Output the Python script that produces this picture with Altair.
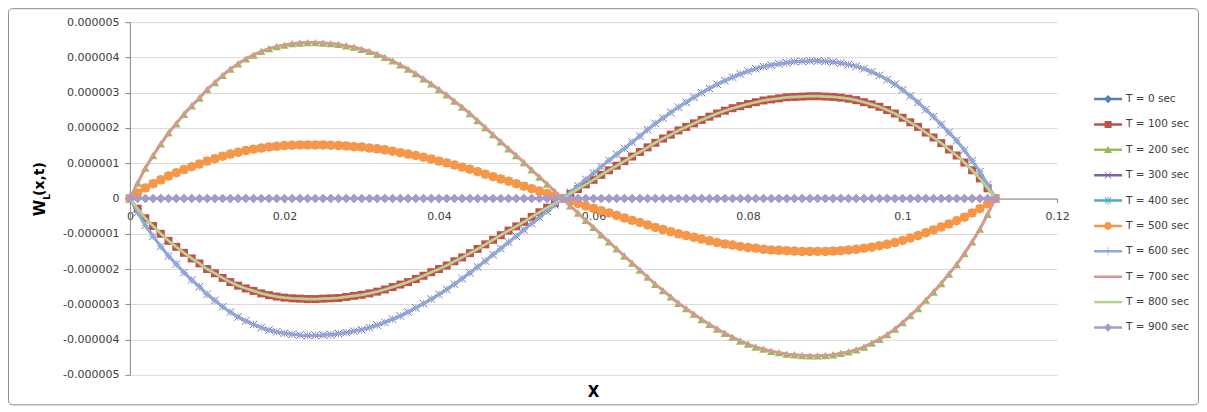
import altair as alt
import pandas as pd

# x positions (m), sampled every 0.001
X = [i / 1000 for i in range(113)]

# deflection values, in units of 1e-6
W_200 = [0, 0.44, 0.86, 1.22, 1.55, 1.86, 2.12, 2.39, 2.63, 2.85, 3.09, 3.29, 3.49, 3.67, 3.82, 3.96, 4.07, 4.17, 4.25, 4.31,
         4.35, 4.39, 4.41, 4.42, 4.42, 4.41, 4.39, 4.37, 4.33, 4.29, 4.23, 4.17, 4.09, 4.00, 3.90, 3.79, 3.67, 3.54, 3.39, 3.25,
         3.09, 2.94, 2.76, 2.59, 2.41, 2.21, 2.01, 1.81, 1.61, 1.41, 1.22, 1.02, 0.81, 0.61, 0.41, 0.20, 0,
         -0.21, -0.41, -0.62, -0.82, -1.03, -1.23, -1.43, -1.63, -1.83, -2.03, -2.23, -2.43, -2.61, -2.79, -2.97, -3.12,
         -3.28, -3.43, -3.57, -3.70, -3.82, -3.93, -4.04, -4.13, -4.21, -4.27, -4.33, -4.37, -4.41, -4.43, -4.45, -4.46,
         -4.46, -4.45, -4.43, -4.39, -4.35, -4.29, -4.21, -4.10, -3.99, -3.86, -3.70, -3.52, -3.32, -3.12, -2.88, -2.65,
         -2.41, -2.14, -1.87, -1.56, -1.23, -0.87, -0.45, 0]

W_100 = [0, -0.29, -0.56, -0.78, -1.00, -1.20, -1.37, -1.54, -1.70, -1.84, -2.00, -2.12, -2.25, -2.37, -2.47, -2.55, -2.62,
         -2.69, -2.74, -2.78, -2.81, -2.83, -2.84, -2.85, -2.85, -2.84, -2.83, -2.82, -2.79, -2.76, -2.73, -2.69, -2.64,
         -2.58, -2.51, -2.44, -2.37, -2.28, -2.19, -2.09, -2.00, -1.90, -1.78, -1.67, -1.55, -1.43, -1.30, -1.17, -1.04,
         -0.91, -0.79, -0.66, -0.52, -0.39, -0.26, -0.13, 0,
         0.13, 0.27, 0.40, 0.53, 0.67, 0.80, 0.93, 1.06, 1.19, 1.32, 1.45, 1.58, 1.70, 1.81, 1.93, 2.03, 2.13, 2.23, 2.32,
         2.41, 2.49, 2.56, 2.62, 2.68, 2.73, 2.78, 2.81, 2.84, 2.87, 2.88, 2.89, 2.90, 2.90, 2.89, 2.88, 2.86, 2.83, 2.79,
         2.73, 2.67, 2.60, 2.51, 2.41, 2.29, 2.16, 2.03, 1.87, 1.73, 1.57, 1.39, 1.22, 1.02, 0.80, 0.57, 0.29, 0]

W_500 = [0, 0.15, 0.30, 0.42, 0.53, 0.64, 0.73, 0.82, 0.90, 0.98, 1.06, 1.13, 1.20, 1.26, 1.31, 1.36, 1.40, 1.43, 1.46,
         1.48, 1.50, 1.51, 1.52, 1.52, 1.52, 1.52, 1.51, 1.50, 1.49, 1.47, 1.46, 1.43, 1.41, 1.38, 1.34, 1.30, 1.26, 1.22,
         1.17, 1.12, 1.06, 1.01, 0.95, 0.89, 0.83, 0.76, 0.69, 0.62, 0.55, 0.49, 0.42, 0.35, 0.28, 0.21, 0.14, 0.07, 0,
         -0.07, -0.14, -0.21, -0.28, -0.35, -0.41, -0.48, -0.55, -0.62, -0.68, -0.75, -0.82, -0.88, -0.94, -1.00, -1.05,
         -1.10, -1.15, -1.20, -1.25, -1.29, -1.32, -1.36, -1.39, -1.41, -1.44, -1.46, -1.47, -1.48, -1.49, -1.50, -1.50,
         -1.50, -1.50, -1.49, -1.48, -1.46, -1.44, -1.41, -1.38, -1.34, -1.30, -1.25, -1.19, -1.12, -1.05, -0.97, -0.89,
         -0.81, -0.72, -0.63, -0.53, -0.41, -0.29, -0.15, 0]

W_600 = [0, -0.39, -0.76, -1.07, -1.36, -1.63, -1.86, -2.10, -2.31, -2.50, -2.72, -2.89, -3.07, -3.22, -3.36, -3.47, -3.57,
         -3.66, -3.73, -3.78, -3.82, -3.85, -3.87, -3.88, -3.88, -3.87, -3.86, -3.83, -3.80, -3.76, -3.72, -3.66, -3.59,
         -3.51, -3.42, -3.33, -3.22, -3.10, -2.98, -2.85, -2.72, -2.58, -2.43, -2.27, -2.11, -1.94, -1.77, -1.59, -1.42,
         -1.24, -1.07, -0.89, -0.71, -0.54, -0.36, -0.18, 0,
         0.18, 0.36, 0.54, 0.72, 0.90, 1.08, 1.25, 1.42, 1.60, 1.77, 1.95, 2.13, 2.28, 2.44, 2.59, 2.73, 2.87, 3.00, 3.12,
         3.24, 3.34, 3.44, 3.53, 3.61, 3.68, 3.74, 3.78, 3.82, 3.85, 3.88, 3.89, 3.90, 3.90, 3.89, 3.87, 3.84, 3.80, 3.75,
         3.68, 3.59, 3.49, 3.37, 3.24, 3.08, 2.91, 2.73, 2.52, 2.32, 2.10, 1.87, 1.64, 1.37, 1.07, 0.76, 0.39, 0]

W_0 = [0.0] * len(X)

SERIES = ["T = 0 sec", "T = 100 sec", "T = 200 sec", "T = 300 sec", "T = 400 sec",
          "T = 500 sec", "T = 600 sec", "T = 700 sec", "T = 800 sec", "T = 900 sec"]
VALUES = [W_0, W_100, W_200, W_600, W_500, W_500, W_600, W_200, W_100, W_0]
COLORS = ["#4F81BD", "#C0504D", "#9BBB59", "#8064A2", "#4BACC6",
          "#F79646", "#8DA9D8", "#D99694", "#B9D38F", "#A99BC8"]

XTICKS = [0, 0.02, 0.04, 0.06, 0.08, 0.1, 0.12]
YTICKS = [-5, -4, -3, -2, -1, 0, 1, 2, 3, 4, 5]

rows = []
for name, vals in zip(SERIES, VALUES):
    assert len(vals) == len(X), (name, len(vals))
    for xv, yv in zip(X, vals):
        rows.append({"x": xv, "y": yv, "series": name})
df = pd.DataFrame(rows)

# ---- styles ----
FONT = "DejaVu Sans"
W, H = 928, 353

XCROSS = "M-1,-1L1,1M-1,1L1,-1"
STAR = "M-1,-1L1,1M-1,1L1,-1M0,-1L0,1"
PLUS = "M0,-1L0,1M-1,0L1,0"
MARKERS = [("diamond", 81, True), ("square", 64, True), ("triangle-up", 72, True), (XCROSS, 56, False),
           (STAR, 56, False), ("circle", 90, True), (PLUS, 56, False), None, None, ("diamond", 81, True)]

LINE = "M-1,-0.09L1,-0.09L1,0.09L-1,0.09Z"
LDIA = "M0,-0.3L0.3,0L0,0.3L-0.3,0Z"
LSQ = "M-0.25,-0.25L0.25,-0.25L0.25,0.25L-0.25,0.25Z"
LTRI = "M0,-0.3L0.28,0.22L-0.28,0.22Z"
LX = "M-0.25,-0.21L-0.21,-0.25L0.25,0.21L0.21,0.25ZM0.21,-0.25L0.25,-0.21L-0.21,0.25L-0.25,0.21Z"
LV = "M-0.03,-0.3L0.03,-0.3L0.03,0.3L-0.03,0.3Z"
LCIR = "M-0.28,0A0.28,0.28,0,1,1,0.28,0A0.28,0.28,0,1,1,-0.28,0Z"
LEG_PATHS = [LINE + LDIA, LINE + LSQ, LINE + LTRI, LINE + LX, LINE + LX + LV,
             LINE + LCIR, LINE + LV, LINE, LINE, LINE + LDIA]

YLABEL = "datum.value == 0 ? '0' : (datum.value < 0 ? '-' : '') + '0.00000' + abs(datum.value)"
XLABEL = "datum.value == 0 ? '0' : format(datum.value, '.2~f')"

x_enc = alt.X("x:Q", scale=alt.Scale(domain=[0, 0.12], nice=False, zero=False),
              axis=alt.Axis(values=XTICKS, labelExpr=XLABEL, offset=-H / 2, grid=False, title=None,
                            labelFlush=False, labelOverlap=False, labelFont=FONT, labelFontSize=11,
                            labelColor="#404040", domainColor="#868686", tickColor="#868686",
                            tickSize=4, labelPadding=8))
y_enc = alt.Y("y:Q", scale=alt.Scale(domain=[-5, 5], nice=False, zero=False),
              axis=alt.Axis(values=YTICKS, grid=True, gridColor="#D9D9D9", title=None,
                            labelExpr=YLABEL, labelFlush=False, labelOverlap=False, labelFont=FONT,
                            labelFontSize=11, labelColor="#404040", domainColor="#868686",
                            tickColor="#868686", tickSize=5, labelPadding=6))

base = alt.Chart(df).encode(x=x_enc, y=y_enc)

one = pd.DataFrame({"a": [0]})
border = alt.Chart(one).mark_rect(fill="transparent", stroke="#8C8C8C", strokeWidth=1, cornerRadius=4).encode(
    x=alt.value(-121.5), x2=alt.value(W + 141.5), y=alt.value(-13.5), y2=alt.value(H + 30))

layers = [border]
for i, name in enumerate(SERIES):
    sub = base.transform_filter(alt.datum.series == name)
    layers.append(sub.mark_line(color=COLORS[i], strokeWidth=2.75, strokeJoin="round"))
    if MARKERS[i] is not None:
        shp, sz, filled = MARKERS[i]
        layers.append(sub.mark_point(shape=shp, size=sz, filled=filled, color=COLORS[i],
                                     opacity=1, strokeWidth=1))

legend_layer = alt.Chart(df).transform_filter("false").mark_point(filled=True, opacity=1).encode(
    color=alt.Color("series:N", scale=alt.Scale(domain=SERIES, range=COLORS),
                    legend=alt.Legend(title=None)),
    shape=alt.Shape("series:N", scale=alt.Scale(domain=SERIES, range=LEG_PATHS),
                    legend=alt.Legend(title=None)),
)
layers.append(legend_layer)


def label(text, dx, dy, size, angle=270):
    return alt.Chart(pd.DataFrame({"t": [text]})).mark_text(
        angle=angle, align="center", baseline="middle", font=FONT, fontSize=size,
        fontWeight="bold", color="#000000").encode(x=alt.value(dx), y=alt.value(dy), text="t:N")


layers += [label("W", -90, 186, 15), label("L", -83, 175, 9), label("(x,t)", -90, 157, 14),
           label("X", W / 2, H + 17, 15, angle=0)]

chart = alt.layer(*layers).properties(
    width=W, height=H,
    autosize=alt.AutoSizeParams(type="none"),
    padding={"left": 122, "top": 14, "right": 142, "bottom": 32},
).configure_view(stroke=None).configure_axis(
    labelOverlap=False,
).configure_legend(
    orient="none", legendX=965, legendY=63, padding=0, symbolSize=784, symbolStrokeWidth=0,
    labelFont=FONT, labelFontSize=10.5, labelColor="#404040", labelOffset=4, rowPadding=5.4,
    symbolOpacity=1,
)

chart.save("out.html", embed_options={"renderer": "svg", "actions": False})
